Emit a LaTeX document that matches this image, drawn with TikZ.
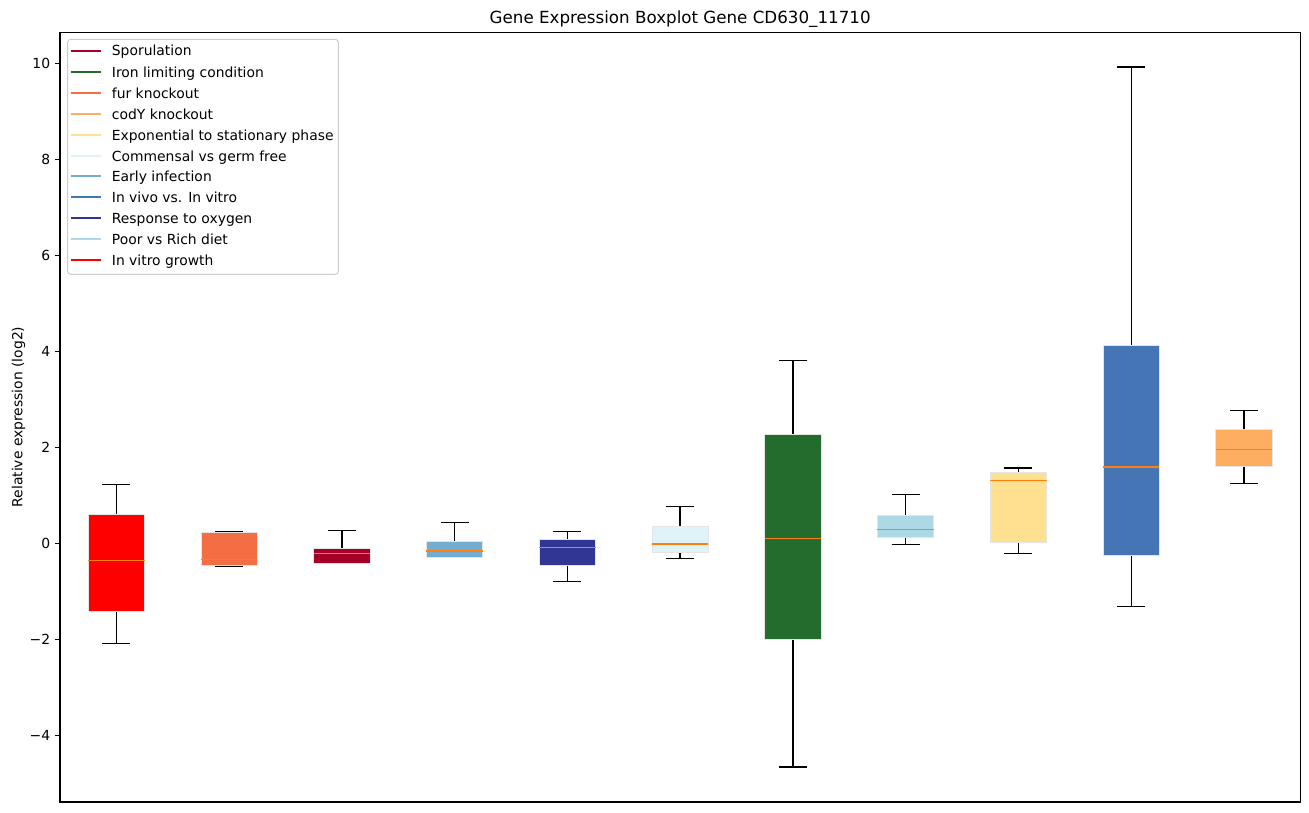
\documentclass[tikz,border=0pt]{standalone}
\usepackage{fontspec}
\setmainfont{DejaVu Sans}
\definecolor{sporul}{HTML}{A50026}
\definecolor{iron}{RGB}{36,107,46}
\definecolor{fur}{HTML}{F46D43}
\definecolor{cody}{HTML}{FDAE61}
\definecolor{expo}{HTML}{FEE090}
\definecolor{commensal}{HTML}{E0F3F8}
\definecolor{early}{HTML}{74ADD1}
\definecolor{invivo}{HTML}{4575B4}
\definecolor{oxygen}{HTML}{313695}
\definecolor{diet}{HTML}{ADD8E6}
\definecolor{growth}{HTML}{FF0000}
\definecolor{medcol}{HTML}{FF7F0E}
\tikzset{whisker/.style={line width=1.3bp, black}}
\tikzset{medline/.style={line width=1.2bp, medcol}}
\tikzset{boxfill/.style={fill=#1, draw=black!10, line width=0.8bp}}
\tikzset{legline/.style={draw=#1, line width=2bp}}
\tikzset{ticklab/.style={inner sep=0pt, font=\fontsize{13.9bp}{16bp}\selectfont}}

\begin{document}
\begin{tikzpicture}[x=1bp,y=-1bp]
  \useasboundingbox[fill=white] (0,0) rectangle (1309,812);
  % boxes in data coordinates
  \begin{scope}[shift={(3.625,543.3)}, x=112.75bp, y=48bp]
    \foreach \i/\col/\wlo/\qlo/\med/\qhi/\whi in {
      1/growth/-2.08/-1.42/-0.36/0.61/1.23,
      2/fur/-0.47/-0.47/-0.34/0.235/0.235,
      3/sporul/-0.42/-0.42/-0.21/-0.10/0.27,
      4/early/-0.285/-0.285/-0.16/0.05/0.44,
      5/oxygen/-0.79/-0.45/-0.08/0.09/0.25,
      6/commensal/-0.32/-0.195/-0.015/0.36/0.76,
      7/iron/-4.66/-2.01/0.10/2.26/3.81,
      8/diet/-0.02/0.12/0.29/0.59/1.02,
      9/expo/-0.21/0.01/1.31/1.485/1.57,
      10/invivo/-1.31/-0.26/1.59/4.12/9.92,
      11/cody/1.25/1.60/1.96/2.37/2.76%
    } {
      \draw[whisker] (\i,\wlo) -- (\i,\whi);
      \draw[whisker] (\i-0.125,\wlo) -- (\i+0.125,\wlo);
      \draw[whisker] (\i-0.125,\whi) -- (\i+0.125,\whi);
      \draw[boxfill=\col] (\i-0.25,\qlo) rectangle (\i+0.25,\qhi);
      \draw[medline] (\i-0.25,\med) -- (\i+0.25,\med);
    }
    \foreach \v/\lab in {-4/−4, -2/−2, 0/0, 2/2, 4/4, 6/6, 8/8, 10/10} {
      \draw[line width=1.1bp] (0.5,\v) -- ++(-4.86bp,0);
      \node[ticklab, anchor=east] (tick\v) at ([xshift=-9.7bp]0.5,\v) {\lab};
    }
  \end{scope}
  % axes frame
  \draw[line width=1.1bp] (60,32.3) rectangle (1300.3,802);
  \node[inner sep=0pt, anchor=base, font=\fontsize{16.7bp}{19bp}\selectfont] (title) at (680.2,24) {Gene Expression Boxplot Gene CD630\_11710};
  \node[ticklab, rotate=90, anchor=south] (ylab) at (25.5,417) {Relative expression (log2)};
  % legend
  \draw[rounded corners=3bp, draw=black!20, fill=white, line width=1bp] (67.7,39.3) rectangle (338.3,274.3);
  \foreach \k/\y/\col/\lab in {
    0/51/sporul/Sporulation,
    1/72/iron/Iron limiting condition,
    2/93/fur/fur knockout,
    3/114/cody/codY knockout,
    4/135/expo/Exponential to stationary phase,
    5/156/commensal/Commensal vs germ free,
    6/176/early/Early infection,
    7/197/invivo/In vivo vs. In vitro,
    8/218/oxygen/Response to oxygen,
    9/239/diet/Poor vs Rich diet,
    10/260/growth/In vitro growth%
  } {
    \coordinate (leg\k) at (71,\y);
    \coordinate (legend\k) at (101,\y);
    \draw[legline=\col] (leg\k) -- (legend\k);
    \node[ticklab, anchor=base west] (legtext\k) at ([xshift=40.7bp, yshift=-5bp]leg\k) {\lab};
  }
\end{tikzpicture}
\end{document}
